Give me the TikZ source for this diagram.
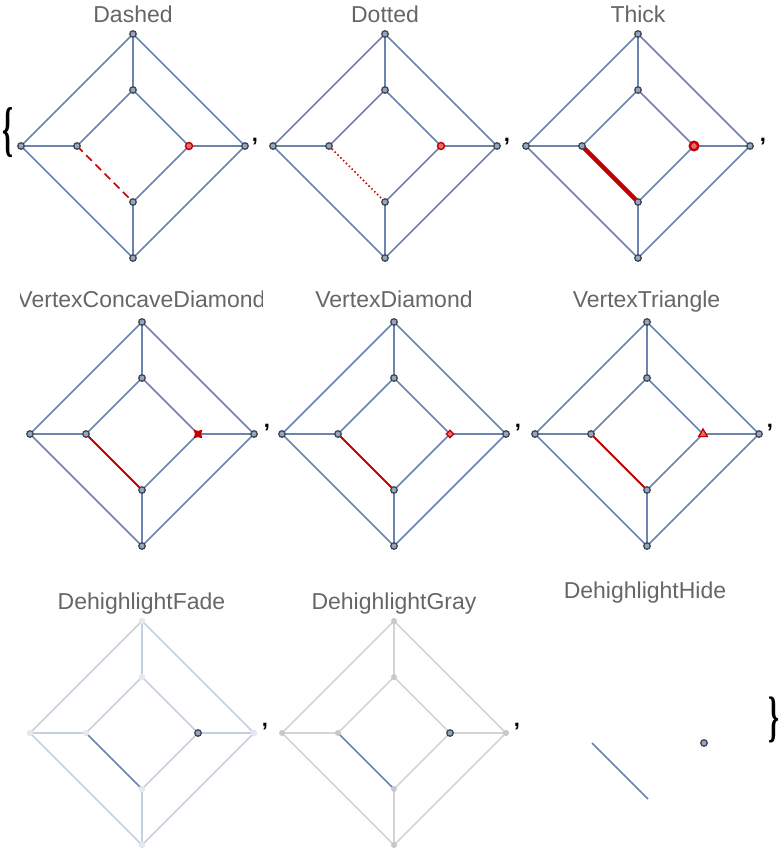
\documentclass[tikz,border=0pt]{standalone}
\usepackage{fontspec}
\setmainfont{Liberation Sans}
\newfontfamily\bracefont{Liberation Serif}
\usepackage{graphicx}
\usetikzlibrary{shapes.geometric}
\definecolor{edgeblue}{RGB}{106,131,175}
\definecolor{vfill}{RGB}{150,166,192}
\definecolor{vdraw}{RGB}{65,70,82}
\definecolor{hired}{RGB}{195,0,0}
\definecolor{hipink}{RGB}{228,110,110}
\definecolor{fadeedge}{RGB}{196,207,224}
\definecolor{fadevert}{RGB}{228,233,241}
\definecolor{grayedge}{RGB}{212,212,212}
\definecolor{grayvert}{RGB}{200,200,200}
\definecolor{titlegray}{RGB}{102,102,102}
\tikzset{
  gpos/.pic={
    \coordinate (-t) at (0,-112);
    \coordinate (-it) at (0,-56);
    \coordinate (-l) at (-112,0);
    \coordinate (-il) at (-56,0);
    \coordinate (-ir) at (56,0);
    \coordinate (-r) at (112,0);
    \coordinate (-ib) at (0,56);
    \coordinate (-b) at (0,112);
  },
  title/.style={font=\fontsize{23}{23}\selectfont, text=titlegray, anchor=base, inner sep=0pt},
  sep/.style={font=\bfseries\fontsize{22}{22}\selectfont, text=black, inner sep=0pt},
  edge/.style={draw=edgeblue, line width=1.5pt},
  fadeE/.style={draw=fadeedge, line width=1.5pt},
  grayE/.style={draw=grayedge, line width=1.5pt},
  vert/.style={circle, draw=vdraw, fill=vfill, line width=1.3pt, minimum size=6.5pt, inner sep=0pt},
  fadeV/.style={circle, fill=fadevert, minimum size=6.5pt, inner sep=0pt},
  grayV/.style={circle, fill=grayvert, minimum size=6pt, inner sep=0pt},
  hiV/.style={circle, draw=hired, fill=hipink, line width=1.4pt, minimum size=7pt, inner sep=0pt},
  hiVthick/.style={circle, draw=hired, fill=hipink, line width=2.4pt, minimum size=8.5pt, inner sep=0pt},
  hiE/.style={draw=hired, line width=2pt},
}
\newcommand\gedges[2]{\foreach \u/\v in {t/l,l/b,b/r,r/t,it/il,ib/ir,ir/it,t/it,l/il,r/ir,b/ib}{\draw[#2] (#1-\u) -- (#1-\v);}}
\newcommand\gverts[2]{\foreach \u in {t,it,l,il,ib,b,r}{\node[#2] (#1-\u-v) at (#1-\u) {};}}
\begin{document}
\begin{tikzpicture}[x=1pt,y=-1pt]
\useasboundingbox (0,0) rectangle (783,865);
% positions
\pic (A) at (133,146) {gpos};
\pic (B) at (385,146) {gpos};
\pic (C) at (638,146) {gpos};
\pic (D) at (142,434) {gpos};
\pic (E) at (394,434) {gpos};
\pic (F) at (647,434) {gpos};
\pic (G) at (142,733) {gpos};
\pic (H) at (394,733) {gpos};
\pic (I) at (648,743) {gpos};
% titles
\node[title] (A-title) at (133,22) {Dashed};
\node[title] (B-title) at (385,22) {Dotted};
\node[title] (C-title) at (638,22) {Thick};
\begin{scope}
\clip (20,280) rectangle (262,320);
\node[title] (D-title) at (141.5,307) {VertexConcaveDiamond};
\end{scope}
\node[title] (E-title) at (394,307) {VertexDiamond};
\node[title] (F-title) at (646.5,307) {VertexTriangle};
\node[title] (G-title) at (141.5,609) {DehighlightFade};
\node[title] (H-title) at (394,609) {DehighlightGray};
\node[title] (I-title) at (645,598) {DehighlightHide};
% row 1
\gedges{A}{edge}
\draw[hired, line width=1.5pt, dash pattern=on 8pt off 5pt] (A-il) -- (A-ib);
\gverts{A}{vert}
\node[hiV] (A-ir-v) at (A-ir) {};
\gedges{B}{edge}
\draw[hired, line width=1.5pt, dash pattern=on 1.5pt off 2.5pt] (B-il) -- (B-ib);
\gverts{B}{vert}
\node[hiV] (B-ir-v) at (B-ir) {};
\gedges{C}{edge}
\draw[hired, line width=4.5pt] (C-il) -- (C-ib);
\gverts{C}{vert}
\node[hiVthick] (C-ir-v) at (C-ir) {};
% row 2
\gedges{D}{edge}
\draw[hiE] (D-il) -- (D-ib);
\gverts{D}{vert}
\node[star, star points=4, star point ratio=0.5, draw=hired, fill=hired, line width=0.6pt, minimum size=5.5pt, inner sep=0pt] (D-ir-v) at (D-ir) {};
\gedges{E}{edge}
\draw[hiE] (E-il) -- (E-ib);
\gverts{E}{vert}
\node[diamond, draw=hired, fill=hipink, line width=1.3pt, minimum size=8pt, inner sep=0pt] (E-ir-v) at (E-ir) {};
\gedges{F}{edge}
\draw[hiE] (F-il) -- (F-ib);
\gverts{F}{vert}
\node[regular polygon, regular polygon sides=3, draw=hired, fill=hipink, line width=1.3pt, minimum size=10pt, inner sep=0pt] (F-ir-v) at (F-ir) {};
% row 3
\gedges{G}{fadeE}
\draw[edge] (G-il) -- (G-ib);
\gverts{G}{fadeV}
\node[vert] (G-ir-v) at (G-ir) {};
\gedges{H}{grayE}
\draw[edge] (H-il) -- (H-ib);
\gverts{H}{grayV}
\node[vert] (H-ir-v) at (H-ir) {};
\draw[edge] (I-il) -- (I-ib);
\node[vert] (I-ir-v) at (I-ir) {};
% separators
\node[sep] (c1) at (255,142) {,};
\node[sep] (c2) at (507,142) {,};
\node[sep] (c3) at (763,142) {,};
\node[sep] (c4) at (267,428) {,};
\node[sep] (c5) at (518,428) {,};
\node[sep] (c6) at (770,428) {,};
\node[sep] (c7) at (265,727) {,};
\node[sep] (c8) at (517,727) {,};
\node[inner sep=0pt] (lbrace) at (7.5,132.5) {\resizebox*{11pt}{50pt}{\bracefont\bfseries\{}};
\node[inner sep=0pt] (rbrace) at (774,720) {\resizebox*{11pt}{46pt}{\bracefont\bfseries\}}};
\end{tikzpicture}
\end{document}
